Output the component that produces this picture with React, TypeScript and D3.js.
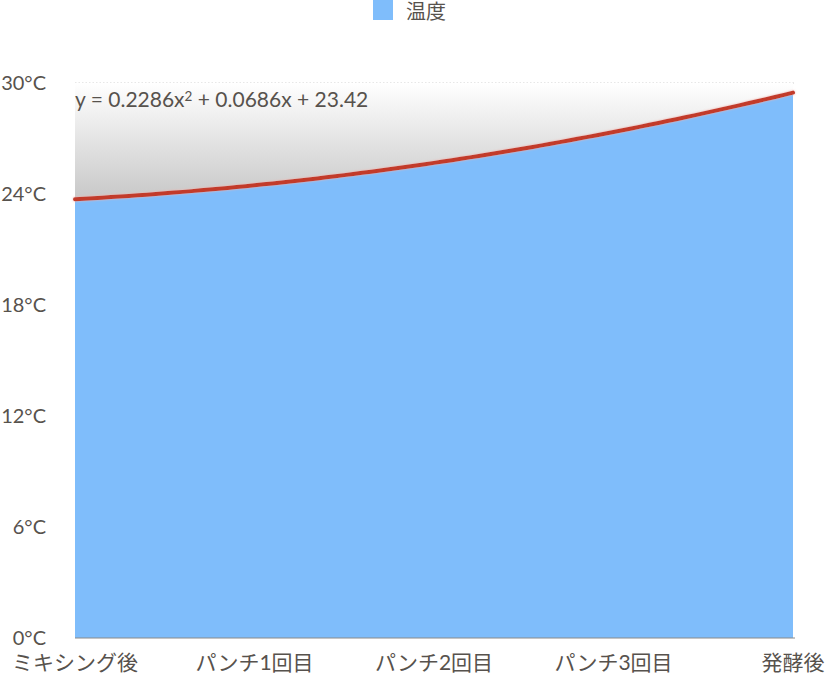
import React from "react";
import * as d3 from "d3";

const categories = ["ミキシング後", "パンチ1回目", "パンチ2回目", "パンチ3回目", "発酵後"];
const temps = [23.7, 24.5, 25.7, 27.3, 29.5];
const yTicks = [0, 6, 12, 18, 24, 30];
const trendCoef = [0.2286, 0.0686, 23.42]; // a, b, c
const seriesName = "温度";

const W = 825;
const H = 679;
const font = "Lato, 'Noto Sans CJK JP', sans-serif";
const textColor = "#57524d";

export default function App() {
    const x = d3.scalePoint<string>().domain(categories).range([75, 793]);
    const y = d3.scaleLinear().domain([0, 30]).range([638, 83]);

    const area = d3
        .area<number>()
        .x((_, i) => x(categories[i]) as number)
        .y0(y(0))
        .y1((d) => y(d));

    // trend curve sampled over x = 1..5
    const [a, b, c] = trendCoef;
    const xs = d3.range(1, 5.0001, 0.05);
    const tx = d3.scaleLinear().domain([1, 5]).range([75, 793]);
    const trendPts: [number, number][] = xs.map((t) => [tx(t), y(a * t * t + b * t + c)]);
    const line = d3.line();
    const shade = d3
        .area<[number, number]>()
        .x((d) => d[0])
        .y0(y(30))
        .y1((d) => d[1]);

    return (
        <svg width={W} height={H} style={{ position: "absolute", left: 0, top: 0, fontFamily: font }}>
            <defs>
                <linearGradient id="shade" x1="0" y1={y(30)} x2="0" y2={y(23.3)} gradientUnits="userSpaceOnUse">
                    <stop offset="0" stopColor="#ffffff" />
                    <stop offset="1" stopColor="#c4c4c4" />
                </linearGradient>
                <filter id="glow" x="-5%" y="-50%" width="110%" height="200%">
                    <feGaussianBlur in="SourceAlpha" stdDeviation="1" result="b" />
                    <feFlood floodColor="#f4b0a8" />
                    <feComposite in2="b" operator="in" result="s" />
                    <feMerge>
                        <feMergeNode in="s" />
                        <feMergeNode in="SourceGraphic" />
                    </feMerge>
                </filter>
            </defs>

            {/* legend */}
            <rect x={373} y={0} width={20} height={20} fill="#7fbdfb" />
            <text x={406} y={11.5} dy="0.35em" fontSize={20} fill={textColor}>
                {seriesName}
            </text>

            {/* top gridline */}
            <line x1={75} x2={795} y1={y(30)} y2={y(30)} stroke="#cfcfcf" strokeDasharray="1.5,2" />

            <path d={shade(trendPts) ?? ""} fill="url(#shade)" />
            <path d={area(temps) ?? ""} fill="#7fbdfb" />
            <line x1={75} x2={795} y1={y(0)} y2={y(0)} stroke="#8a8a8a" strokeWidth={1} />

            <path
                d={line(trendPts) ?? ""}
                fill="none"
                stroke="#c23a2c"
                strokeWidth={4}
                strokeLinecap="round"
                filter="url(#glow)"
            />

            <text x={75} y={107} fontSize={21} fill={textColor}>
                y = 0.2286x<tspan fontSize={13.5} dy={-6}>2</tspan>
                <tspan dy={6}> + 0.0686x + 23.42</tspan>
            </text>

            {yTicks.map((t) => (
                <text key={t} x={46} y={y(t)} dy="0.35em" textAnchor="end" fontSize={20} fill={textColor}>
                    {`${t}°C`}
                </text>
            ))}

            {categories.map((cat) => (
                <text key={cat} x={x(cat)} y={663} dy="0.35em" textAnchor="middle" fontSize={21} fill={textColor}>
                    {cat}
                </text>
            ))}
        </svg>
    );
}
